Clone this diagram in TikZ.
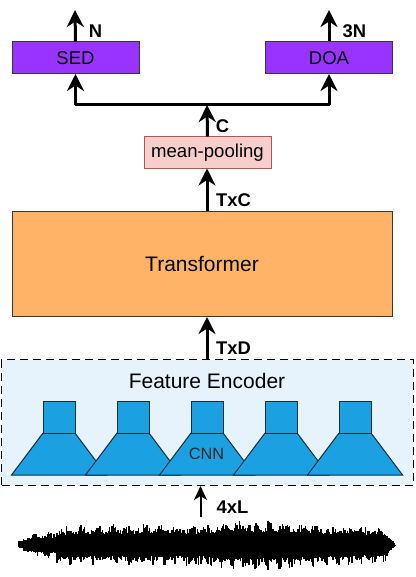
\documentclass[tikz,border=0pt]{standalone}
\usepackage{fontspec}
\setmainfont{Liberation Sans}
\usetikzlibrary{arrows.meta}
\definecolor{purp}{HTML}{9933FF}
\definecolor{edgegrey}{HTML}{36393D}
\definecolor{poolfill}{HTML}{F8CECC}
\definecolor{pooledge}{HTML}{B85450}
\definecolor{orangefill}{HTML}{FFB366}
\definecolor{encfill}{HTML}{E6F3FC}
\definecolor{cnnfill}{HTML}{1BA1E2}
\definecolor{cnnedge}{HTML}{0F2F45}
\tikzset{
  boxnode/.style={draw=edgegrey,line width=1pt,inner sep=0pt,anchor=north west,align=center},
  headbox/.style={boxnode,fill=purp,minimum width=127pt,minimum height=31.5pt,font=\fontsize{18.5pt}{20pt}\selectfont},
  bigtip/.style={-{Stealth[length=17pt,width=17pt,inset=5.5pt]}},
  flow/.style={line width=3pt,bigtip},
  dimlabel/.style={font=\bfseries\fontsize{18.4pt}{20pt}\selectfont,inner sep=0pt},
  unitpart/.style={fill=cnnfill,draw=cnnedge,line width=1pt,line join=miter},
}
\begin{document}
\begin{tikzpicture}[x=1pt,y=-1pt]
\useasboundingbox (0.5,0) rectangle (415.5,577);
% encoder background
\node[draw=black,dash pattern=on 8pt off 5pt,line width=1pt,fill=encfill,minimum width=411.5pt,minimum height=126pt,inner sep=0pt,anchor=north west] (enc) at (1.5,359) {};
\node[font=\fontsize{21pt}{22pt}\selectfont,inner sep=0pt] (enctitle) at (207.5,380.5) {Feature Encoder};
% CNN units
\foreach \i/\x in {a/12,b/86,c/160,d/234,e/308}{
  \draw[unitpart] (\x,475) -- (\x+31.5,433) -- (\x+63.5,433) -- (\x+95,475) -- cycle;
  \node[unitpart,inner sep=0pt,minimum width=32pt,minimum height=32pt,anchor=north west] (sq\i) at (\x+31.5,401) {};
}
\node[font=\fontsize{16.3pt}{18pt}\selectfont,text=black!85,inner sep=0pt] (cnn) at (207,454) {CNN};
% boxes
\node[headbox] (sed) at (12,41.5) {SED};
\node[headbox] (doa) at (265.5,41.5) {DOA};
\node[boxnode,draw=pooledge,fill=poolfill,minimum width=127pt,minimum height=32pt,font=\fontsize{18.6pt}{20pt}\selectfont] (pool) at (144,136.5) {mean-pooling};
\node[boxnode,fill=orangefill,minimum width=380pt,minimum height=105pt,font=\fontsize{21pt}{22pt}\selectfont] (trans) at (12,211) {Transformer};
% free ends
\coordinate (nout) at (75.5,10);
\coordinate (tout) at (329.5,10);
\coordinate (junction) at (207.5,105);
\coordinate (wavetop) at (201,517);
\coordinate (enctop) at (207.5,359);
\coordinate (transtop) at (207.5,211);
\coordinate (transbot) at (207.5,317);
\coordinate (poolbot) at (207.5,168.5);
\coordinate (encbot) at (201,486);
% connectors
\draw[flow] (sed.north) -- (nout);
\draw[flow] (doa.north) -- (tout);
\draw[line width=3pt,line join=round,bigtip] (junction) -| (sed.south);
\draw[line width=3pt,line join=round,bigtip] (junction) -| (doa.south);
\draw[flow] (pool.north) -- (junction);
\draw[flow] (transtop) -- (poolbot);
\draw[flow] (enctop) -- (transbot);
\draw[line width=2pt,-{Stealth[length=14pt,width=13pt,inset=4pt]}] (wavetop) -- (encbot);
% labels
\node[dimlabel] (ln) at (96,31) {N};
\node[dimlabel] (l3n) at (355,31) {3N};
\node[dimlabel] (lc) at (223,126) {C};
\node[dimlabel] (ltxc) at (234,200) {TxC};
\node[dimlabel] (ltxd) at (234,348) {TxD};
\node[dimlabel] (l4xl) at (233,507) {4xL};
% waveform
\pgfmathsetseed{4217}
\foreach \px in {19,20.2,...,396}{
  \pgfmathsetmacro{\env}{\px<30 ? 4+(\px-19)*0.6 : (\px<57 ? 11+(\px-30)*0.12 : (\px<140 ? 20+(\px-57)*0.03 : (\px<200 ? 22.5-(\px-140)*0.02 : (\px<250 ? 21+(\px-200)*0.1 : (\px<300 ? 26-(\px-250)*0.04 : (\px<385 ? 24-(\px-300)*0.06 : 19-(\px-385)*1.7))))))}
  \pgfmathsetmacro{\up}{\env*(0.5+0.5*rnd*(0.7+0.3*sin(\px*23)))}
  \pgfmathsetmacro{\dn}{\env*(0.5+0.5*rnd*(0.7+0.3*sin(\px*31+40)))}
  \draw[line width=1.4pt,black] (\px,545-\up) -- (\px,545+\dn);
}
\end{tikzpicture}
\end{document}
